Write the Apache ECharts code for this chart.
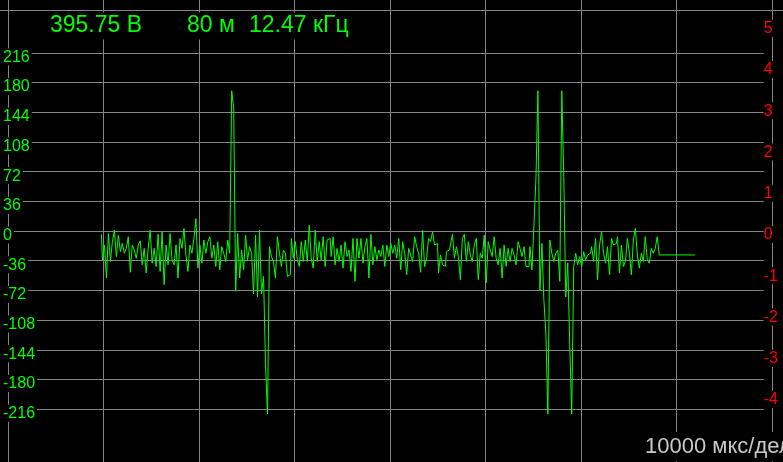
<!DOCTYPE html>
<html>
<head>
<meta charset="utf-8">
<script src="https://cdn.jsdelivr.net/npm/echarts@6/dist/echarts.min.js"></script>
<style>
html,body{margin:0;padding:0;background:#000;}
#c{width:783px;height:462px;}
</style>
</head>
<body>
<div id="c"></div>
<script>
// ---- data ----
const leftTicks = [-216, -180, -144, -108, -72, -36, 0, 36, 72, 108, 144, 180, 216];
const rightTicks = [-4, -3, -2, -1, 0, 1, 2, 3, 4, 5];
const timeGridMs = [10, 20, 30, 40, 50, 60, 70];
const headerValues = ['395.75 В', '80 м', '12.47 кГц'];
const timebaseLabel = '10000 мкс/дел';
const startMs = 9.79;      // first sample time
const stepMs = 0.2083;     // sample period
const tailEndMs = 71.95;   // last value held until here

const seg1 = [-4, -35, -17, -57, -3, -37, -13, 1, -31, -5,
  -25, -15, -27, -21, -7, -50, -17, -23, -33, -17,
  -12, -41, -21, -51, -21, 1, -39, -21, -43, -4,
  -49, -1, -65, -17, -41, -3, -35, -41, -17, -57,
  -9, -21, 3, -29, -49, -17, -27, -9, 15, -45,
  -17, -39, -11, -27, -13, -7, -33, -17, -43, -13,
  -47, -19, -27];
const seg2 = [-37, -11, -27, 170, 149, -73, -3, -57, -23, -47,
  -5, -35, -19, -27, -76, -5, -80, 1, -76, -55,
  -161, -222, -19, -31, -37, -57, -7, -27, -43, -23,
  -27, -55];
const seg3 = [-53, -9, -33, -13, -35, -43, -13, -37, -11, -37,
  7, -33, -45, 1, -37, -13, -35, -7, -43, -11,
  -9, -31, -7, -41, -21, -37, -17, -45, -13, -31,
  -23, -49, -9, -61, -9, -33, -9, -39, -19, -9,
  -57, -4, -41, -19, -35, -23, -31, -17, -43, -17,
  -31, -15, -27, -17, -33, -9, -47, -13, -27, -53];
const seg4 = [-21, -29, -37, -7, -19, -27, -50, 1, -43, -33,
  -9, -13, -1, -17, -15, -51, -29, -41, -43, -25,
  -23, -17, -4, -33, -19, -31, -59, -9, -4, -37,
  -13, -29, -37, -17, -9, -59, -27, -33, -5, -63,
  -13, -23, -31, -7, -33, -41, -21, -57, -17, -43,
  -21, -37, -21, -29, -41, -13, -21, -31, -19, -43];
const seg5 = [-43, -19, -47, 7, 64, 170, -72, -15, -84, -124,
  -222, -11, -27, -37, -27, -23, -61, 170, 66, -80,
  -39, -138, -222, -43, -27, -41, -31, -43, -25, -35];
const seg6 = [-29, -27, -19, -37, -9, -59, -17, -1, -27, -39,
  -19, -53, -9, -17, -15, -7, -51, -17, -43, -37,
  -9, -27, -53, -11, 3, -29, -45, -27, -37, -7,
  -35, -39, -21, -27, -21, -7, -29];

// ---- build ----
const samples = [].concat(seg1, seg2, seg3, seg4, seg5, seg6);
const points = samples.map((v, i) => [startMs + i * stepMs, v]);
points.push([tailEndMs, samples[samples.length - 1]]);

const GRID = '#858585';
const FONT = 'Liberation Sans';
const GREEN = '#00ff00';

const chart = echarts.init(document.getElementById('c'), null, {renderer: 'canvas'});
chart.setOption({
  backgroundColor: '#000',
  animation: false,
  title: [
    {
      text: '{a|' + headerValues[0] + '}{b|' + headerValues[1] + '}{c|' + headerValues[2] + '}',
      left: 46, top: 12, padding: [2, 4, 2, 4], backgroundColor: '#000',
      textStyle: {
        rich: {
          a: {width: 137, color: GREEN, fontSize: 23, fontFamily: FONT, fontWeight: 'normal', lineHeight: 24},
          b: {width: 62, color: GREEN, fontSize: 23, fontFamily: FONT, fontWeight: 'normal', lineHeight: 24},
          c: {color: GREEN, fontSize: 23, fontFamily: FONT, fontWeight: 'normal', lineHeight: 24}
        }
      }
    },
    {
      text: timebaseLabel,
      left: 641, top: 432, padding: [0, 4, 0, 4], backgroundColor: '#000',
      textStyle: {color: '#c8c8c8', fontSize: 22, fontFamily: FONT, fontWeight: 'normal', lineHeight: 29}
    }
  ],
  grid: [
    {left: 7, right: 16, top: 0, bottom: 0},
    {left: 0, right: 0, top: 0, height: 10}
  ],
  xAxis: [
    {
      gridIndex: 0, type: 'value', min: 0, max: 79.17,
      axisLine: {show: false},
      axisTick: {show: false, customValues: timeGridMs},
      axisLabel: {show: false, customValues: timeGridMs},
      splitLine: {show: true, lineStyle: {color: GRID, width: 1}}
    },
    {
      gridIndex: 1, type: 'value', min: 0, max: 1, position: 'top',
      axisLine: {show: true, lineStyle: {color: GRID, width: 1}},
      axisTick: {show: false}, axisLabel: {show: false}, splitLine: {show: false}
    }
  ],
  yAxis: [
    {
      gridIndex: 0, type: 'value', min: -280, max: 280, position: 'left', offset: 0,
      axisLine: {show: false},
      axisTick: {show: false, customValues: leftTicks},
      axisLabel: {show: false, customValues: leftTicks},
      splitLine: {show: true, lineStyle: {color: GRID, width: 1}}
    },
    {
      gridIndex: 0, type: 'value', min: -280, max: 280, position: 'left', offset: 0, z: 3,
      axisLine: {show: true, lineStyle: {color: GRID, width: 1}},
      axisTick: {show: false, customValues: leftTicks},
      splitLine: {show: false},
      axisLabel: {
        show: true, customValues: leftTicks, align: 'left', margin: 5,
        verticalAlign: 'middle', padding: [8, 0, 0, 0],
        formatter: v => '{a|' + v + '}',
        rich: {a: {color: GREEN, fontSize: 16, fontFamily: FONT, backgroundColor: '#000', lineHeight: 16, padding: [1, 2, 0, 0]}}
      }
    },
    {
      gridIndex: 0, type: 'value', min: -5.6, max: 5.6, position: 'right', offset: 8, z: 3,
      axisLine: {show: true, lineStyle: {color: GRID, width: 1}},
      axisTick: {show: false, customValues: rightTicks},
      splitLine: {show: false},
      axisLabel: {
        show: true, customValues: rightTicks, align: 'left', margin: -8,
        verticalAlign: 'middle', padding: [7, 0, 0, 0],
        formatter: v => '{a|' + v + '}',
        rich: {a: {color: '#ff0000', fontSize: 16, fontFamily: FONT, backgroundColor: '#000', lineHeight: 16, padding: [1, 2, 0, 0]}}
      }
    },
    {
      gridIndex: 1, type: 'value', min: 0, max: 1, show: false
    }
  ],
  series: [
    {
      type: 'line', xAxisIndex: 0, yAxisIndex: 0,
      data: points, showSymbol: false, symbol: 'none', step: 'middle',
      lineStyle: {color: GREEN, width: 1},
      z: 2
    }
  ]
});
</script>
</body>
</html>
